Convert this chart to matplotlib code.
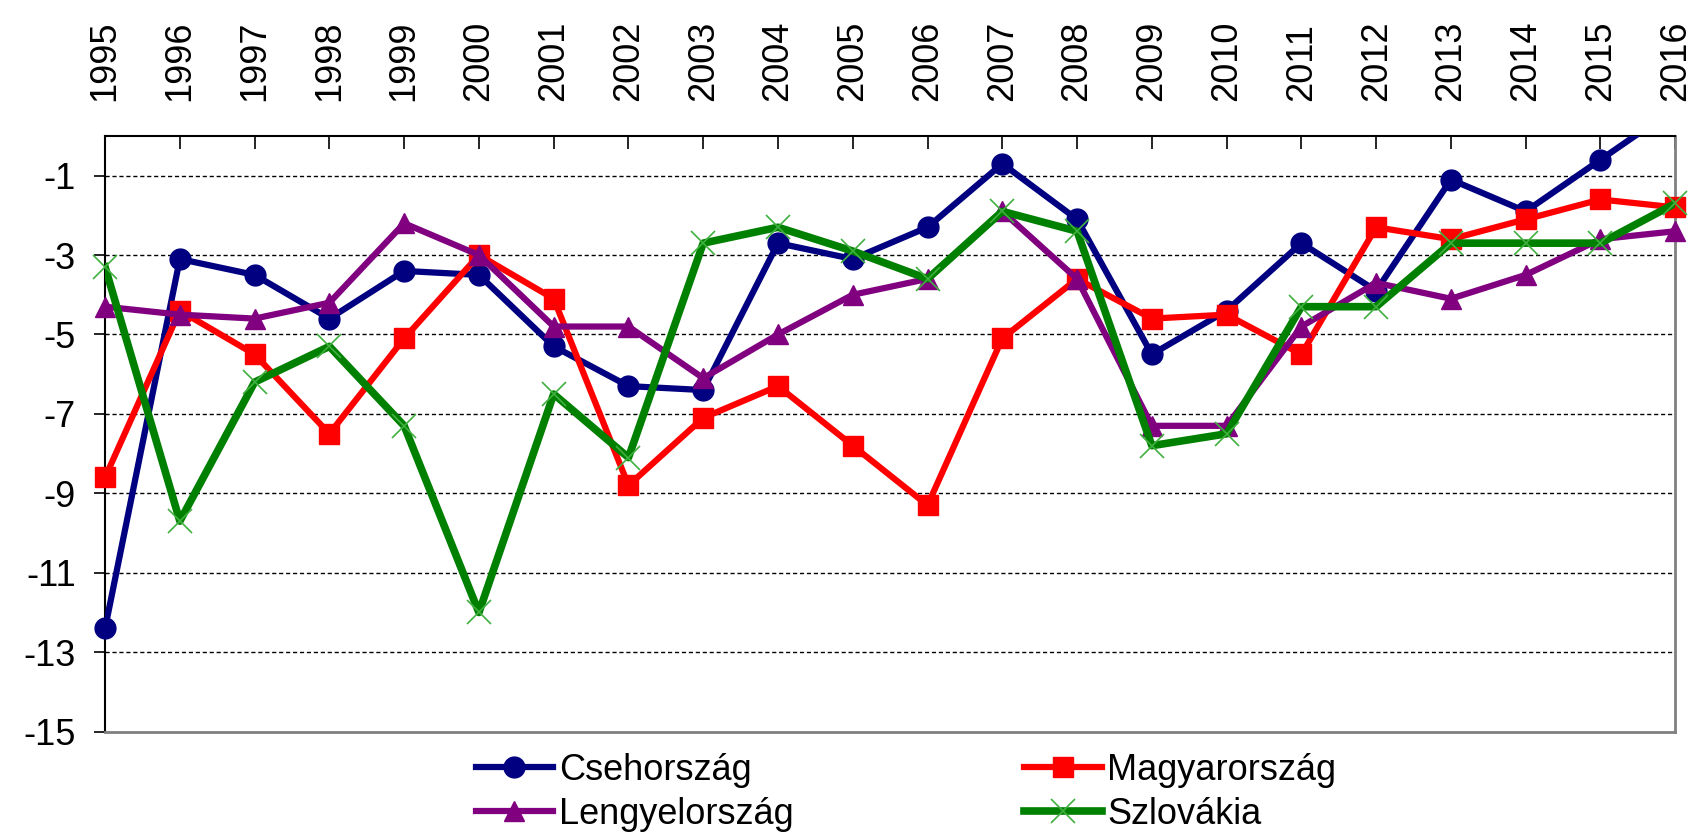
import matplotlib
matplotlib.use("Agg")
import matplotlib.pyplot as plt
from matplotlib.lines import Line2D

plt.rcParams['font.family'] = ['Liberation Sans', 'DejaVu Sans']

years = [str(y) for y in range(1995, 2017)]

# budget balance values
cseh = [-12.4, -3.1, -3.5, -4.6, -3.4, -3.5, -5.3, -6.3, -6.4, -2.7, -3.1,
        -2.3, -0.7, -2.1, -5.5, -4.4, -2.7, -3.9, -1.1, -1.9, -0.6, 0.7]
magyar = [-8.6, -4.4, -5.5, -7.5, -5.1, -3.0, -4.1, -8.8, -7.1, -6.3, -7.8,
          -9.3, -5.1, -3.6, -4.6, -4.5, -5.5, -2.3, -2.6, -2.1, -1.6, -1.8]
lengyel = [-4.3, -4.5, -4.6, -4.2, -2.2, -3.0, -4.8, -4.8, -6.1, -5.0, -4.0,
           -3.6, -1.9, -3.6, -7.3, -7.3, -4.8, -3.7, -4.1, -3.5, -2.6, -2.4]
szlovak = [-3.3, -9.7, -6.2, -5.3, -7.3, -12.0, -6.5, -8.1, -2.7, -2.3, -2.9,
           -3.6, -1.9, -2.4, -7.8, -7.5, -4.3, -4.3, -2.7, -2.7, -2.7, -1.7]

yticks = [-1, -3, -5, -7, -9, -11, -13, -15]

series = [
    ('Csehország', cseh, dict(color='#000080', lw=4.5),
     dict(marker='o', markersize=15, color='#000080')),
    ('Magyarország', magyar, dict(color='#ff0000', lw=4.5),
     dict(marker='s', markersize=15, color='#ff0000')),
    ('Lengyelország', lengyel, dict(color='#800080', lw=4.5),
     dict(marker='^', markersize=15, color='#800080')),
    ('Szlovákia', szlovak, dict(color='#008000', lw=5.5),
     dict(marker='x', markersize=17, color='#40b040', markeredgewidth=1.2)),
]

fig = plt.figure(figsize=(17.03, 8.39), dpi=100)
ax = fig.add_axes([0.0617, 0.128, 0.922, 0.710])
ax.set_xlim(0, len(years) - 1)
ax.set_ylim(-15, 0)

x = list(range(len(years)))
handles = {}
for i, (name, vals, lstyle, mstyle) in enumerate(series):
    ax.plot(x, vals, zorder=3 + 2 * i, **lstyle)
    # markers are not clipped at the plot border, but off-scale points are dropped
    inside = [k for k, v in enumerate(vals) if -15 <= v <= 0]
    ax.plot([x[k] for k in inside], [vals[k] for k in inside], ls='none',
            clip_on=False, zorder=4 + 2 * i, **mstyle)
    mkw = dict(mstyle)
    mcol = mkw.pop('color')
    handles[name] = Line2D([], [], markerfacecolor=mcol, markeredgecolor=mcol,
                           **lstyle, **mkw)

# dashed gridlines
for g in yticks[:-1]:
    ax.axhline(g, color='black', lw=1, ls=(0, (3, 2)), zorder=0.5)

ax.set_yticks(yticks)
ax.set_yticklabels([str(v) for v in yticks], fontsize=26)
ax.tick_params(axis='y', direction='out', length=8, width=1.2, pad=13)

ax.xaxis.tick_top()
ax.set_xticks(x)
ax.set_xticklabels(years, rotation=90, fontsize=26)
ax.tick_params(axis='x', direction='in', length=9, width=1.2, pad=25)

ax.spines['left'].set_color('black')
ax.spines['left'].set_linewidth(1.5)
ax.spines['top'].set_color('black')
ax.spines['top'].set_linewidth(1.5)
ax.spines['right'].set_color('#808080')
ax.spines['right'].set_linewidth(2)
ax.spines['bottom'].set_color('#808080')
ax.spines['bottom'].set_linewidth(2)

# column-first fill: row 1 Cseh/Magyar, row 2 Lengyel/Szlovak
order = ['Csehország', 'Lengyelország', 'Magyarország', 'Szlovákia']
fig.legend([handles[n] for n in order], order,
           loc='lower center', bbox_to_anchor=(0.532, -0.03), ncol=2,
           frameon=False, fontsize=26, handlelength=2.15, handletextpad=0.15,
           columnspacing=6.4, labelspacing=0.25)

fig.savefig('out.png', dpi=100)
